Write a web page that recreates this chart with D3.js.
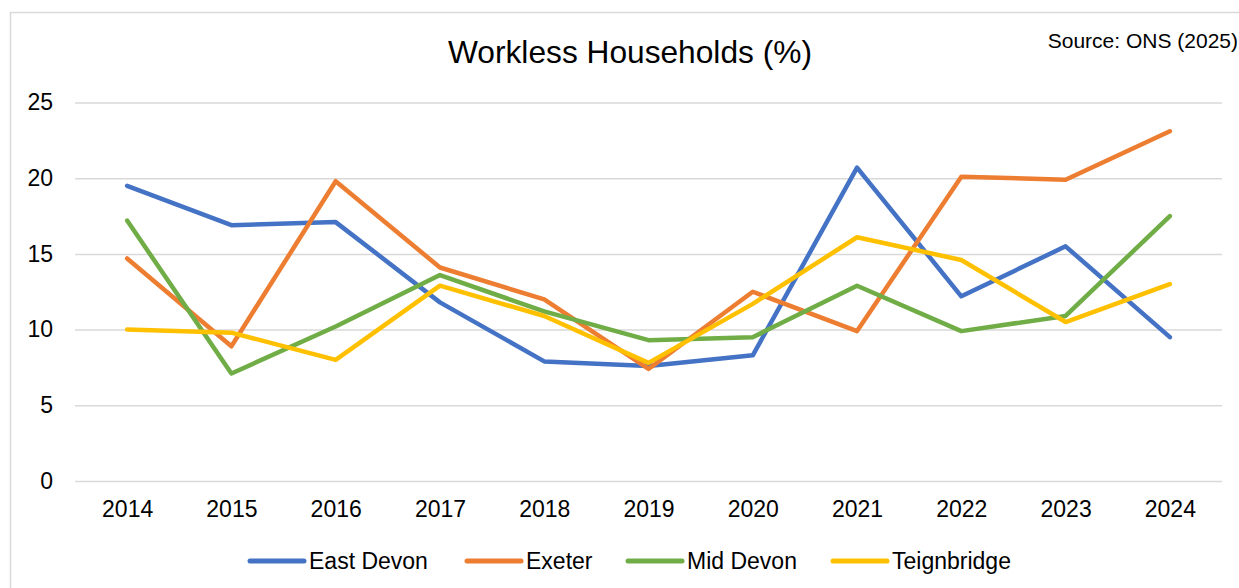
<!DOCTYPE html>
<html>
<head>
<meta charset="utf-8">
<script src="https://cdn.jsdelivr.net/npm/d3@7"></script>
<style>
  body { margin: 0; background: #fff; }
  svg { display: block; font-family: "Liberation Sans", Arial, sans-serif; }
</style>
</head>
<body>
<div id="chart"></div>
<script>
const years = ["2014", "2015", "2016", "2017", "2018", "2019", "2020", "2021", "2022", "2023", "2024"];
const seriesNames = ["East Devon", "Exeter", "Mid Devon", "Teignbridge"];
const eastDevon = [19.5, 16.9, 17.1, 11.8, 7.9, 7.6, 8.3, 20.7, 12.2, 15.5, 9.5];
const exeter = [14.7, 8.9, 19.8, 14.1, 12.0, 7.4, 12.5, 9.9, 20.1, 19.9, 23.1];
const midDevon = [17.2, 7.1, 10.2, 13.6, 11.2, 9.3, 9.5, 12.9, 9.9, 10.9, 17.5];
const teignbridge = [10.0, 9.8, 8.0, 12.9, 10.9, 7.8, 11.7, 16.1, 14.6, 10.5, 13.0];
const yTicks = [0, 5, 10, 15, 20, 25];
const colors = ["#4472C4", "#ED7D31", "#70AD47", "#FFC000"];

const svgWidth = 1239;
const svgHeight = 588;

const margin = { top: 102.5, right: 17, bottom: 107, left: 75 };
const width = svgWidth - margin.left - margin.right;
const height = svgHeight - margin.top - margin.bottom;

const series = [eastDevon, exeter, midDevon, teignbridge].map((vals, i) => ({
    name: seriesNames[i],
    color: colors[i],
    values: vals.map((v, j) => ({ year: years[j], value: v }))
}));

const svg = d3.select("#chart").append("svg")
    .attr("width", svgWidth)
    .attr("height", svgHeight);

// outer chart border
svg.append("rect")
    .attr("x", 10.5)
    .attr("y", 12.5)
    .attr("width", 1240)
    .attr("height", 600)
    .attr("fill", "none")
    .attr("stroke", "#d9d9d9")
    .attr("stroke-width", 1.5);

const x = d3.scalePoint()
    .domain(years)
    .range([0, width])
    .padding(0.5);

const y = d3.scaleLinear()
    .domain([0, 25])
    .range([height, 0]);

const g = svg.append("g")
    .attr("transform", `translate(${margin.left}, ${margin.top})`);

// gridlines
const yAxis = g.append("g")
    .call(d3.axisLeft(y).tickValues(yTicks).tickSize(-width).tickPadding(22))
    .call(a => a.select(".domain").remove());
yAxis.selectAll(".tick line")
    .attr("stroke", "#d9d9d9")
    .attr("stroke-width", 1.5);
yAxis.selectAll(".tick text")
    .attr("font-size", 23)
    .attr("font-family", "Liberation Sans, Arial, sans-serif")
    .attr("fill", "#000");

const xAxis = g.append("g")
    .attr("transform", `translate(0, ${height})`)
    .call(d3.axisBottom(x).tickSize(0).tickPadding(20))
    .call(a => a.select(".domain").remove());
xAxis.selectAll(".tick text")
    .attr("font-size", 23)
    .attr("font-family", "Liberation Sans, Arial, sans-serif")
    .attr("fill", "#000");

const line = d3.line()
    .x(d => x(d.year))
    .y(d => y(d.value));

g.selectAll(".series")
    .data(series)
    .enter()
    .append("path")
    .attr("class", "series")
    .attr("d", d => line(d.values))
    .attr("fill", "none")
    .attr("stroke", d => d.color)
    .attr("stroke-width", 4.5)
    .attr("stroke-linejoin", "round")
    .attr("stroke-linecap", "round");

// title
svg.append("text")
    .attr("x", 630)
    .attr("y", 63)
    .attr("text-anchor", "middle")
    .attr("font-size", 31.7)
    .attr("fill", "#000")
    .text("Workless Households (%)");

svg.append("text")
    .attr("x", 1238)
    .attr("y", 48)
    .attr("text-anchor", "end")
    .attr("font-size", 21)
    .attr("fill", "#000")
    .text("Source: ONS (2025)");

// legend
const legendX = [250, 467, 628, 833];
const legend = svg.selectAll(".legend")
    .data(series)
    .enter()
    .append("g")
    .attr("class", "legend")
    .attr("transform", (d, i) => `translate(${legendX[i]}, 561)`);

legend.append("line")
    .attr("x1", 0)
    .attr("x2", 54)
    .attr("stroke", d => d.color)
    .attr("stroke-width", 5)
    .attr("stroke-linecap", "round");

legend.append("text")
    .attr("x", 59)
    .attr("y", 8)
    .attr("font-size", 23)
    .attr("fill", "#000")
    .text(d => d.name);
</script>
</body>
</html>
